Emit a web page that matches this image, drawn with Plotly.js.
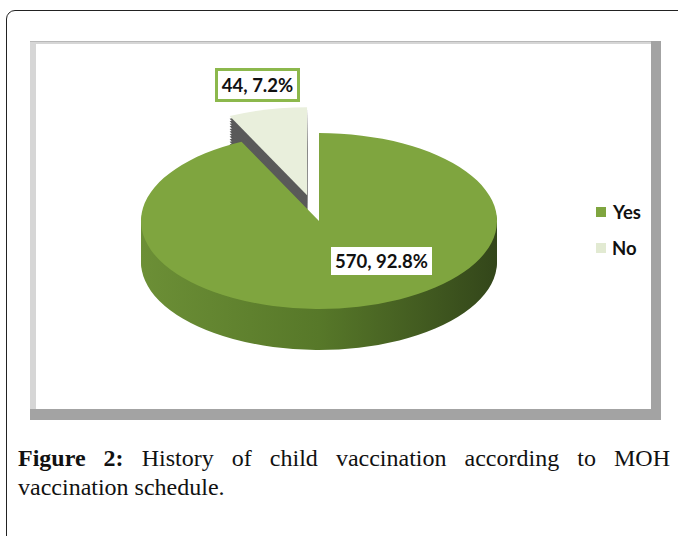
<!DOCTYPE html>
<html><head><meta charset="utf-8">
<script src="https://cdn.plot.ly/plotly-3.0.1.min.js"></script>
<style>
html,body{margin:0;padding:0;background:#fff;width:678px;height:536px;overflow:hidden}
#frame{position:absolute;left:6px;top:10px;width:700px;height:580px;border:1.5px solid #222;border-radius:9px;box-sizing:border-box}
#chart{position:absolute;left:0;top:0;width:678px;height:720px}
.cap{position:absolute;left:18px;width:652px;font-family:"Liberation Serif","Times New Roman",serif;font-size:24px;line-height:29px;color:#111;white-space:nowrap}
#cap1{top:444px;text-align:justify;text-align-last:justify;white-space:normal}
#cap2{top:473px;text-align:left}
.bold{font-weight:bold}
</style></head>
<body>
<div id="frame"></div>
<div id="chart"></div>
<div class="cap" id="cap1"><span class="bold">Figure 2:</span> <span>History of child vaccination according to MOH</span></div>
<div class="cap" id="cap2"><span>vaccination schedule.</span></div>
<script>
// ---- data ----
const labels = ["Yes", "No"];
const counts = [570, 44];
const percents = ["92.8%", "7.2%"];
const pulls = [0, 0.3];

// ---- styling ----
const topColors = ["#7fa53f", "#e9efdc"];
const sideColors = ["#55752a", "#5a5a5a"];
const W = 678, H = 536, HL = 720;           // HL: taller layout canvas (clipped by the page)
const cx = 319, cy = 221;                   // final (squashed) pie centre
const R = 178, maxPull = 0.3;
const S = R * (2 + 2 * maxPull);            // domain size giving radius R
const cyPre = 240;                          // centre before squash
const K = 0.494, depthPre = 83, N = 16;

function dom(d) {
  return {
    x: [(cx - S / 2) / W, (cx + S / 2) / W],
    y: [1 - (cyPre + d + S / 2) / HL, 1 - (cyPre + d - S / 2) / HL]
  };
}
const px = v => v / W, py = v => 1 - v / HL;

const traces = [];
for (let i = N; i >= 1; i--) {
  traces.push({
    type: "pie", labels: labels, values: counts, pull: pulls,
    sort: false, direction: "clockwise", rotation: 0,
    textinfo: "none", hoverinfo: "skip", showlegend: false,
    marker: { colors: sideColors, line: { width: 0 } },
    domain: dom(depthPre * i / N)
  });
}
traces.push({
  type: "pie", labels: labels, values: counts, pull: pulls,
  sort: false, direction: "clockwise", rotation: 0,
  textinfo: "none", showlegend: false,
  marker: { colors: topColors, line: { width: 0 } },
  domain: dom(0)
});

const lblFont = { family: "Lato, 'Open Sans', sans-serif", size: 18.5, color: "#111", weight: "bold" };
const base = { xref: "paper", yref: "paper", showarrow: false, yanchor: "middle" };
const annotations = [
  Object.assign({}, base, { x: px(257.5), y: py(85), xanchor: "center",
    text: counts[1] + ", " + percents[1], font: lblFont, bgcolor: "#fff",
    bordercolor: "#8cb84c", borderwidth: 3, borderpad: 2, width: 75, height: 24 }),
  Object.assign({}, base, { x: px(381.5), y: py(261), xanchor: "center",
    text: counts[0] + ", " + percents[0], font: lblFont, bgcolor: "#fff",
    borderwidth: 0, borderpad: 2, width: 97, height: 24 }),
  Object.assign({}, base, { x: px(610), y: py(212), xanchor: "left", text: labels[0], font: lblFont }),
  Object.assign({}, base, { x: px(610), y: py(248), xanchor: "left", text: labels[1], font: lblFont })
];

function rect(x0, y0, x1, y1, fill) {
  return { type: "rect", xref: "paper", yref: "paper", layer: "below",
    x0: px(x0), x1: px(x1), y0: py(y1), y1: py(y0),
    fillcolor: fill, line: { width: 0 } };
}
const shapes = [
  rect(30, 41, 661, 420, "#a3a3a3"),
  rect(30, 41, 651, 409, "#d6d6d6"),
  rect(36, 44, 651, 409, "#ffffff"),
  rect(30, 41, 651, 42, "#b8b8b8"),
  { type: "rect", xref: "paper", yref: "paper", x0: px(596), x1: px(606), y0: py(217), y1: py(207),
    fillcolor: topColors[0], line: { width: 0 } },
  { type: "rect", xref: "paper", yref: "paper", x0: px(596), x1: px(606), y0: py(253), y1: py(243),
    fillcolor: "#e2ead2", line: { width: 0 } }
];

const layout = {
  width: W, height: HL, margin: { l: 0, r: 0, t: 0, b: 0 },
  paper_bgcolor: "rgba(0,0,0,0)", plot_bgcolor: "rgba(0,0,0,0)",
  showlegend: false, annotations: annotations, shapes: shapes
};

function squash() {
  const pl = document.querySelector("#chart .pielayer");
  if (!pl) return;
  pl.setAttribute("transform", `translate(0,${cy}) scale(1,${K}) translate(0,${-cyPre})`);
  const svg = document.querySelector("#chart .main-svg");
  if (!document.getElementById("sideGrad")) {
    const ns = "http://www.w3.org/2000/svg";
    let defs = svg.querySelector("defs");
    if (!defs) { defs = document.createElementNS(ns, "defs"); svg.insertBefore(defs, svg.firstChild); }
    const g = document.createElementNS(ns, "linearGradient");
    g.setAttribute("id", "sideGrad");
    g.setAttribute("gradientUnits", "userSpaceOnUse");
    g.setAttribute("x1", cx - R); g.setAttribute("x2", cx + R);
    g.setAttribute("y1", 0); g.setAttribute("y2", 0);
    [["0", "#6c8f36"], ["0.5", "#577829"], ["1", "#33461a"]].forEach(([o, c]) => {
      const s = document.createElementNS(ns, "stop");
      s.setAttribute("offset", o); s.setAttribute("stop-color", c); g.appendChild(s);
    });
    defs.appendChild(g);
  }
  const tr = pl.querySelectorAll("g.trace");
  tr.forEach((t, idx) => {
    if (idx < tr.length - 1) {
      const slices = t.querySelectorAll("g.slice path.surface");
      if (slices[0]) slices[0].style.fill = "url(#sideGrad)";
    }
  });
}

Plotly.newPlot("chart", traces, layout, { staticPlot: true, displayModeBar: false }).then(squash);
squash();
</script>
</body></html>
